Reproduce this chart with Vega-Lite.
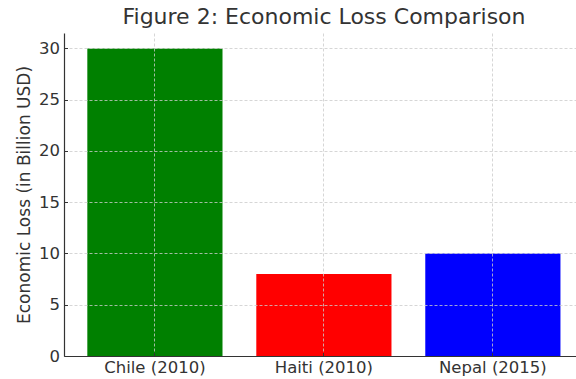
{
  "$schema": "https://vega.github.io/schema/vega-lite/v6.json",
  "width": 512,
  "height": 323,
  "autosize": {"type": "none"},
  "padding": {"left": 64, "top": 33, "right": 0, "bottom": 23},
  "background": "white",
  "config": {
    "font": "DejaVu Sans",
    "view": {"stroke": null}
  },
  "title": {
    "text": "Figure 2: Economic Loss Comparison",
    "fontSize": 22,
    "fontWeight": "normal",
    "color": "#333333",
    "font": "DejaVu Sans",
    "anchor": "middle",
    "dx": 4,
    "offset": 4
  },
  "data": {
    "values": [
      {"country": "Chile (2010)", "loss": 30, "color": "#008000"},
      {"country": "Haiti (2010)", "loss": 8, "color": "#ff0000"},
      {"country": "Nepal (2015)", "loss": 10, "color": "#0000ff"}
    ]
  },
  "mark": {"type": "bar"},
  "encoding": {
    "x": {
      "field": "country",
      "type": "nominal",
      "sort": null,
      "scale": {"paddingInner": 0.2, "paddingOuter": 0.115, "align": 0.6},
      "axis": {
        "title": null,
        "labelAngle": 0,
        "bandPosition": 0.5,
        "grid": true,
        "gridDash": [3, 2],
        "gridColor": "#cccccc",
        "gridWidth": 0.8,
        "domainColor": "#333333",
        "domainWidth": 1.2,
        "tickColor": "#333333",
        "tickSize": -3.5,
        "labelFontSize": 16.5,
        "labelColor": "#333333",
        "labelPadding": 7,
        "zindex": 1
      }
    },
    "y": {
      "field": "loss",
      "type": "quantitative",
      "scale": {"domain": [0, 31.5], "nice": false},
      "axis": {
        "title": "Economic Loss (in Billion USD)",
        "titleFontSize": 17,
        "titleFontWeight": "normal",
        "titleColor": "#333333",
        "titlePadding": 5,
        "values": [0, 5, 10, 15, 20, 25, 30],
        "grid": true,
        "gridDash": [3, 2],
        "gridColor": "#cccccc",
        "gridWidth": 0.8,
        "domainColor": "#333333",
        "domainWidth": 1.2,
        "tickColor": "#333333",
        "tickSize": -3.5,
        "labelFontSize": 16.5,
        "labelColor": "#333333",
        "labelPadding": 8,
        "zindex": 1
      }
    },
    "color": {"field": "color", "type": "nominal", "scale": null, "legend": null}
  }
}
